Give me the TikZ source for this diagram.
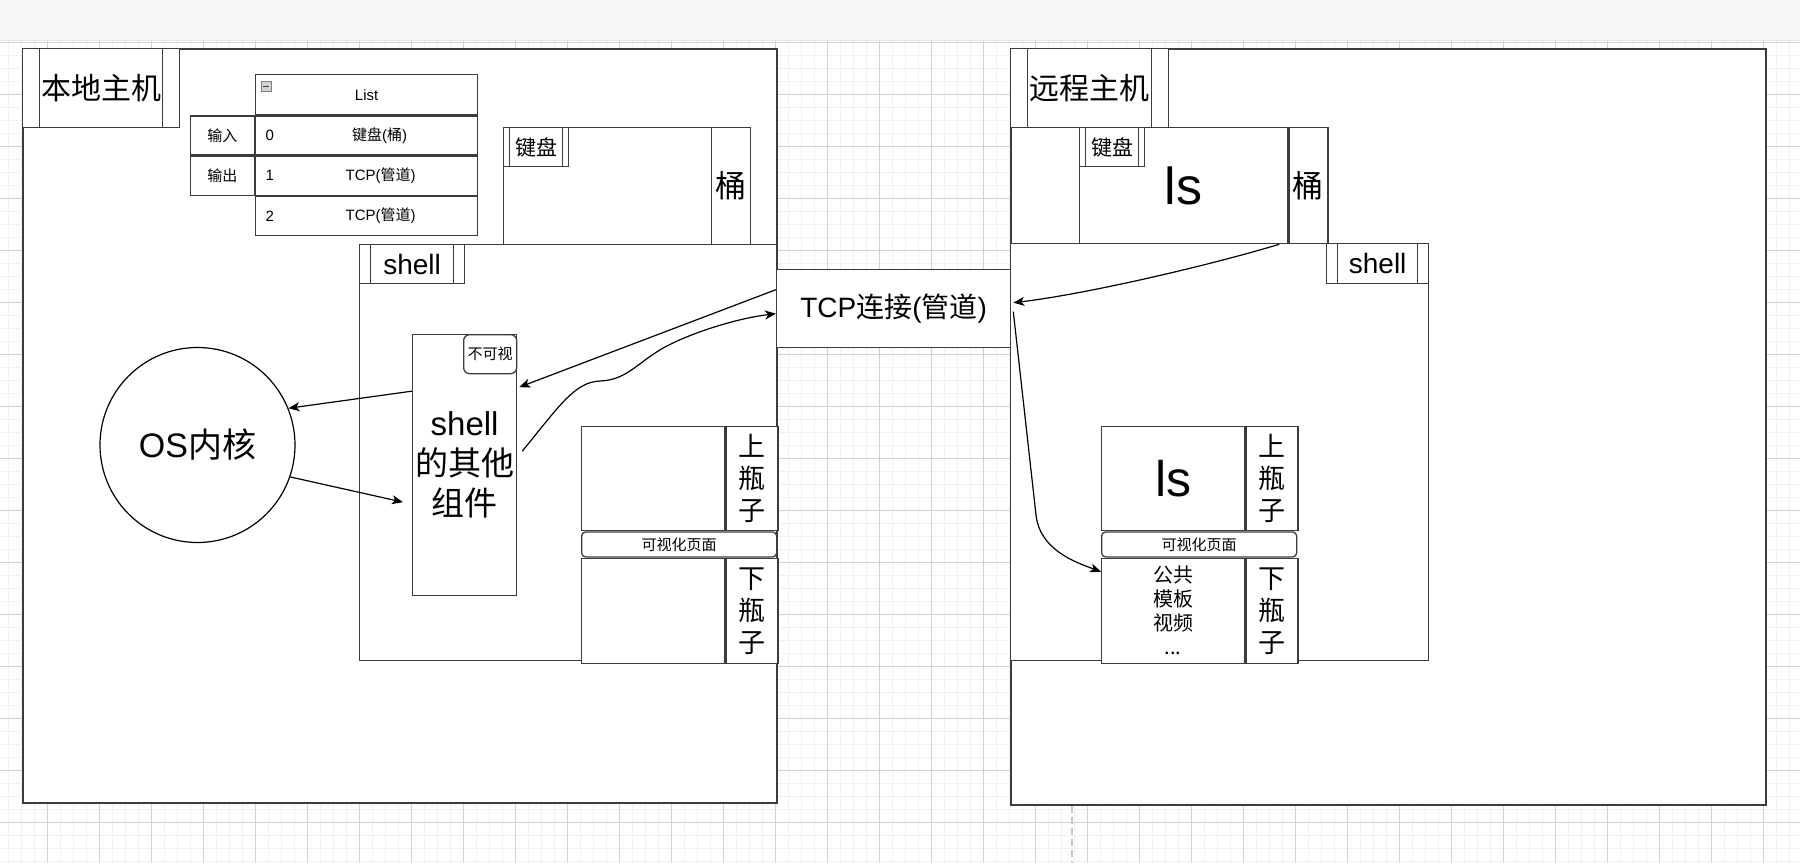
\documentclass[tikz,border=0pt]{standalone}
\usepackage{fontspec}
\setmainfont{Liberation Sans}
\newfontfamily\cjk{Noto Sans CJK SC}
\usetikzlibrary{arrows.meta, positioning}
\definecolor{edgegray}{HTML}{3C3C3C}
\definecolor{gridminor}{HTML}{F1F1F1}
\definecolor{gridmajor}{HTML}{D2D2D2}
\definecolor{topbar}{HTML}{F8F8F8}
\newcommand{\fsz}[2]{\fontsize{#1}{#2}\selectfont}

\begin{document}
\begin{tikzpicture}[
x=1pt, y=-1pt,
box/.style={draw=edgegray, line width=1.3pt, fill=white, inner sep=0pt, anchor=north west},
hostbox/.style={box, line width=1.7pt},
procbox/.style={box, path picture={
  \draw[edgegray, line width=1.3pt]
    ([xshift=#1]path picture bounding box.north west) -- ([xshift=#1]path picture bounding box.south west)
    ([xshift=-#1]path picture bounding box.north east) -- ([xshift=-#1]path picture bounding box.south east);}},
pill/.style={box, rounded corners=4pt},
jar/.style={box, align=center, font=\cjk\fsz{27}{32}},
arrow/.style={-{Stealth[length=11pt, width=9pt, inset=3pt]}, line width=1.2pt}
]

\useasboundingbox (0,0) rectangle (1800,863);

% background grid
\fill[white] (0,0) rectangle (1800,863);
\foreach \k in {0,...,137} \draw[gridminor, line width=1.5pt] (8.7+13*\k,40) -- (8.7+13*\k,863);
\foreach \k in {0,...,63} \draw[gridminor, line width=1.5pt] (0,42.3+13*\k) -- (1800,42.3+13*\k);
\foreach \k in {0,...,33} \draw[gridmajor, line width=1pt] (47.7+52*\k,40) -- (47.7+52*\k,863);
\foreach \k in {0,...,15} \draw[gridmajor, line width=1pt] (0,42.3+52*\k) -- (1800,42.3+52*\k);
\draw[gray!45, line width=1.5pt, dash pattern=on 7pt off 4pt] (1072,806) -- (1072,863);
\fill[topbar] (0,0) rectangle (1800,40);
\draw[gray!20] (0,40) -- (1800,40);

% local host
\node[hostbox, minimum width=754pt, minimum height=754pt] (lhost) at (22,48) {};
\node[box, minimum width=417pt, minimum height=416pt] (lshell) at (359,244) {};
\node[procbox=17pt, minimum width=157pt, minimum height=79pt, font=\cjk\fsz{30}{36}] (ltitle) at (lhost.north west) {本地主机};

% list table
\node[box, minimum width=222pt, minimum height=40pt, font=\fsz{15}{18}] (lhead) at (255,74) {List};
\node[box, minimum width=222pt, minimum height=39pt] (row0) at (lhead.south west) {};
\node[box, minimum width=222pt, minimum height=39pt] (row1) at (row0.south west) {};
\node[box, minimum width=222pt, minimum height=39pt] (row2) at (row1.south west) {};
\node[anchor=west, font=\fsz{15}{18}] (idx0) at ([xshift=7pt]row0.west) {0};
\node[anchor=west, font=\fsz{15}{18}] (idx1) at ([xshift=7pt]row1.west) {1};
\node[anchor=west, font=\fsz{15}{18}] (idx2) at ([xshift=7pt]row2.west) {2};
\node[font=\fsz{15}{18}] (val0) at ([xshift=13pt]row0.center) {{\cjk 键盘}({\cjk 桶})};
\node[font=\fsz{15}{18}] (val1) at ([xshift=14pt]row1.center) {TCP({\cjk 管道})};
\node[font=\fsz{15}{18}] (val2) at ([xshift=14pt]row2.center) {TCP({\cjk 管道})};
\node[draw=gray, fill=gray!35, minimum size=10pt, inner sep=0pt, anchor=north west] (fold) at ([xshift=6pt, yshift=-7pt]lhead.north west) {};
\draw[edgegray, line width=1.2pt] ([xshift=2pt]fold.west) -- ([xshift=-2pt]fold.east);
\node[box, minimum width=64pt, minimum height=39pt, font=\cjk\fsz{15}{18}, below left=0pt and 0pt of lhead.south west] (inbox) {输入};
\node[box, minimum width=64pt, minimum height=39pt, font=\cjk\fsz{15}{18}, below=0pt of inbox] (outbox) {输出};

% keyboard and bucket
\node[box, minimum width=247pt, minimum height=117pt] (lkbd) at (503,127) {};
\node[procbox=6pt, minimum width=65pt, minimum height=39pt, font=\cjk\fsz{21}{25}] (lkbdtitle) at (lkbd.north west) {键盘};
\node[box, minimum width=39pt, minimum height=117pt, font=\cjk\fsz{31}{37}, below left=0pt and 0pt of lkbd.north east] (lbucket) {桶};

% shell
\node[procbox=11pt, minimum width=105pt, minimum height=39pt, font=\fsz{28}{34}] (lshelltitle) at (lshell.north west) {shell};
\node[box, minimum width=104pt, minimum height=261pt, align=center, font=\fsz{33}{40}] (comp) at (412,334) {shell\\{\cjk 的其他}\\{\cjk 组件}};
\node[box, rounded corners=6pt, minimum width=53pt, minimum height=39pt, font=\cjk\fsz{15}{18}, below left=0pt and 0pt of comp.north east] (invis) {不可视};

% kernel
\node[draw=black, line width=1.2pt, fill=white, circle, minimum size=195pt, inner sep=0pt, font=\fsz{34}{40}] (kernel) at (197.5,445) {OS{\cjk 内核}};

% visual page (local)
\node[box, minimum width=143pt, minimum height=104pt] (lup) at (581,426) {};
\node[jar, minimum width=52pt, minimum height=104pt, right=0pt of lup] (lupjar) {上\\瓶\\子};
\node[pill, minimum width=195pt, minimum height=25pt, font=\cjk\fsz{15}{18}, below right=0pt and 0pt of lup.south west] (lbar) {可视化页面};
\node[box, minimum width=143pt, minimum height=105pt, below right=0pt and 0pt of lbar.south west] (llow) {};
\node[jar, minimum width=52pt, minimum height=105pt, right=0pt of llow] (llowjar) {下\\瓶\\子};

% TCP
\node[box, minimum width=234pt, minimum height=78pt, font=\fsz{28}{34}] (tcp) at (776,269) {TCP{\cjk 连接}({\cjk 管道})};

% remote host
\node[hostbox, minimum width=755pt, minimum height=756pt] (rhost) at (1010,48) {};
\node[box, minimum width=418pt, minimum height=417pt] (rshell) at (1010,243) {};
\node[box, minimum width=208pt, minimum height=116pt, font=\fsz{52}{60}] (rls) at (1079,127) {ls};
\node[box, minimum width=39pt, minimum height=116pt, font=\cjk\fsz{31}{37}, right=0pt of rls] (rbucket) {桶};
\node[procbox=6pt, minimum width=65pt, minimum height=39pt, font=\cjk\fsz{21}{25}] (rkbdtitle) at (rls.north west) {键盘};
\node[procbox=17pt, minimum width=158pt, minimum height=79pt, font=\cjk\fsz{30}{36}] (rtitle) at (rhost.north west) {远程主机};
\node[procbox=11pt, minimum width=102pt, minimum height=40pt, font=\fsz{28}{34}, below left=0pt and 0pt of rshell.north east] (rshelltitle) {shell};

% visual page (remote)
\node[box, minimum width=143pt, minimum height=104pt, font=\fsz{50}{58}] (rup) at (1101,426) {ls};
\node[jar, minimum width=52pt, minimum height=104pt, right=0pt of rup] (rupjar) {上\\瓶\\子};
\node[pill, minimum width=195pt, minimum height=25pt, font=\cjk\fsz{15}{18}, below right=0pt and 0pt of rup.south west] (rbar) {可视化页面};
\node[box, minimum width=143pt, minimum height=105pt, align=center, font=\cjk\fsz{20}{24}, below right=0pt and 0pt of rbar.south west] (rlow) {公共\\模板\\视频\\...};
\node[jar, minimum width=52pt, minimum height=105pt, right=0pt of rlow] (rlowjar) {下\\瓶\\子};

% Connections
\draw[arrow] ([yshift=74pt]comp.west) -- (kernel.22);
\draw[arrow] (kernel.-19) -- ([xshift=-9pt, yshift=-37pt]comp.west);
\draw[arrow] ([yshift=19pt]tcp.west) -- ([xshift=2pt, yshift=78pt]comp.east);
\draw[arrow] ([xshift=5pt, yshift=14pt]comp.east) .. controls (560,405) and (575,382) .. (600,381)
  .. controls (630,380) and (640,358) .. (673,343) .. controls (700,330) and (740,318) .. ([yshift=-5pt]tcp.west);
\draw[arrow] ([xshift=-9pt]rls.south east) .. controls (1200,268) and (1080,295) .. ([xshift=2pt, yshift=6pt]tcp.east);
\draw[arrow] ([xshift=2pt, yshift=-3pt]tcp.east) -- (1036,515) .. controls (1040,550) and (1075,562) .. ([yshift=39pt]rlow.west);

\end{tikzpicture}
\end{document}
